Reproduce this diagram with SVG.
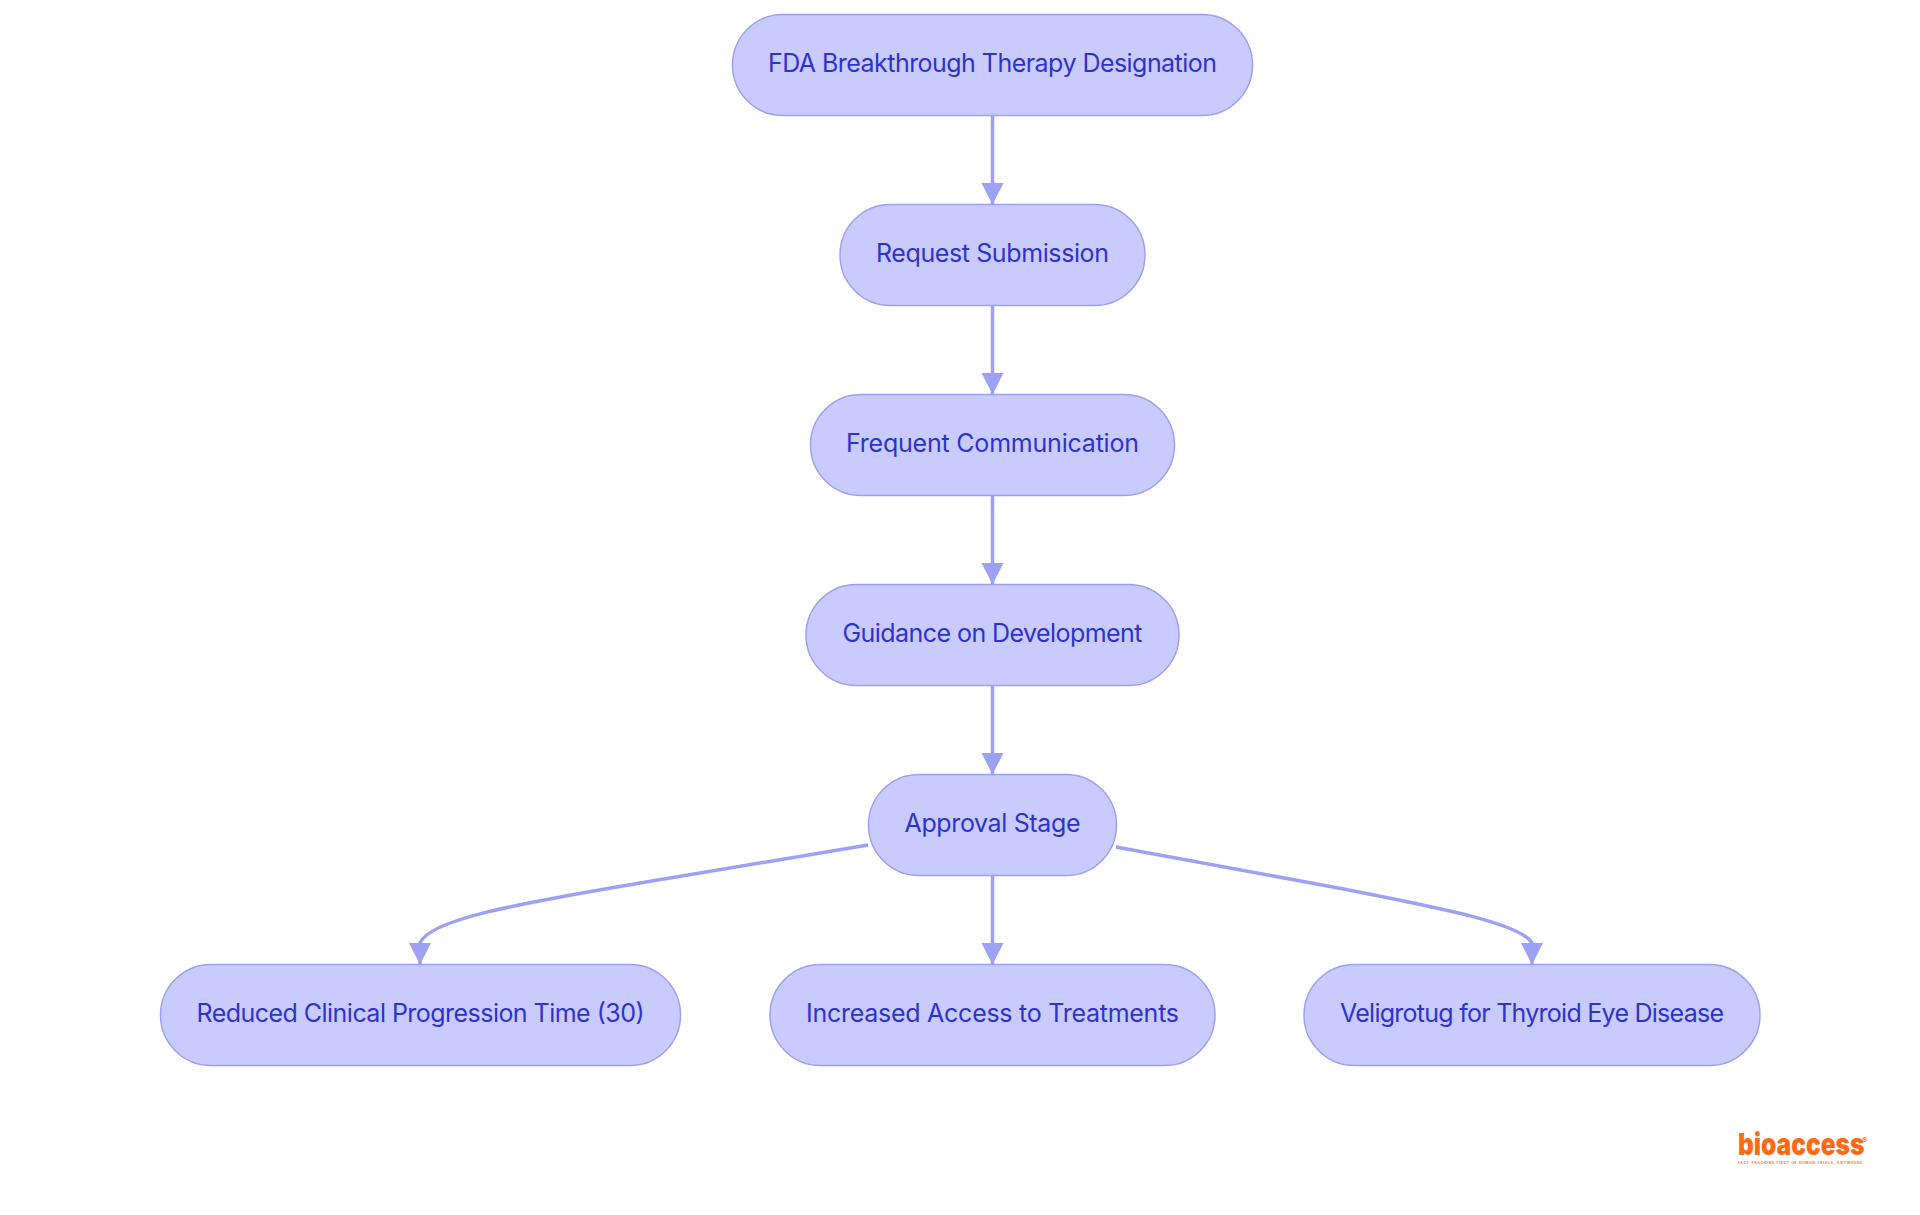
<svg xmlns="http://www.w3.org/2000/svg" width="1920" height="1215" viewBox="0 0 1920 1215">
<style>
.n{fill:#c9cbff;stroke:#9da1f5;stroke-width:1.5}
.t{font-family:"Inter","Noto Sans",sans-serif;font-size:25px;fill:#2f33cc;text-anchor:middle}
.e{fill:none;stroke:#9da1f5;stroke-width:3.5}
.a{fill:#9da1f5}
.l{font-family:"Inter","Lato",sans-serif;fill:#ff6a13;font-weight:900}
</style>
<defs><marker id="arr" markerUnits="userSpaceOnUse" markerWidth="24" markerHeight="24" refX="21.5" refY="12" orient="auto"><path class="a" d="M0,1L21.5,12L0,23z"/></marker></defs>
<rect width="1920" height="1215" fill="#fff"/>
<g id="connectors">
<path class="e" marker-end="url(#arr)" d="M992.5,115.5V204.5"/>
<path class="e" marker-end="url(#arr)" d="M992.5,305.5V394.5"/>
<path class="e" marker-end="url(#arr)" d="M992.5,495.5V584.5"/>
<path class="e" marker-end="url(#arr)" d="M992.5,685.5V774.5"/>
<path class="e" marker-end="url(#arr)" d="M992.5,875.5V964.5"/>
<path class="e" marker-end="url(#arr)" d="M868,845L640,883C530,902 430,918 420,943L420,964.5"/>
<path class="e" marker-end="url(#arr)" d="M1116,847L1333,887C1440,908 1520,923 1532,943L1532,964.5"/>
</g>
<g id="n1"><rect class="n" x="732.5" y="14.5" width="520" height="101" rx="50.5"/><text class="t" x="992.5" y="72" textLength="449">FDA Breakthrough Therapy Designation</text></g>
<g id="n2"><rect class="n" x="840" y="204.5" width="305" height="101" rx="50.5"/><text class="t" x="992.5" y="262" textLength="233">Request Submission</text></g>
<g id="n3"><rect class="n" x="810.5" y="394.5" width="364" height="101" rx="50.5"/><text class="t" x="992.5" y="452" textLength="293">Frequent Communication</text></g>
<g id="n4"><rect class="n" x="806" y="584.5" width="373" height="101" rx="50.5"/><text class="t" x="992.5" y="642" textLength="300">Guidance on Development</text></g>
<g id="n5"><rect class="n" x="868.5" y="774.5" width="248" height="101" rx="50.5"/><text class="t" x="992.5" y="832" textLength="176">Approval Stage</text></g>
<g id="n6"><rect class="n" x="160.5" y="964.5" width="520" height="101" rx="50.5"/><text class="t" x="420.5" y="1022" textLength="448">Reduced Clinical Progression Time (30)</text></g>
<g id="n7"><rect class="n" x="770" y="964.5" width="445" height="101" rx="50.5"/><text class="t" x="992.5" y="1022" textLength="373">Increased Access to Treatments</text></g>
<g id="n8"><rect class="n" x="1304" y="964.5" width="456" height="101" rx="50.5"/><text class="t" x="1532" y="1022" textLength="384">Veligrotug for Thyroid Eye Disease</text></g>
<g id="logo">
<text class="l" transform="translate(1738,1155) scale(1,1.22)" font-size="24.5">bioaccess</text>
<text class="l" x="1862" y="1143" font-size="8" font-weight="400">®</text>
<text class="l" x="1738" y="1163.5" font-size="3.4" font-weight="400" textLength="124" opacity="0.75">FAST-TRACKING FIRST-IN-HUMAN TRIALS, ANYWHERE</text>
</g>
</svg>
